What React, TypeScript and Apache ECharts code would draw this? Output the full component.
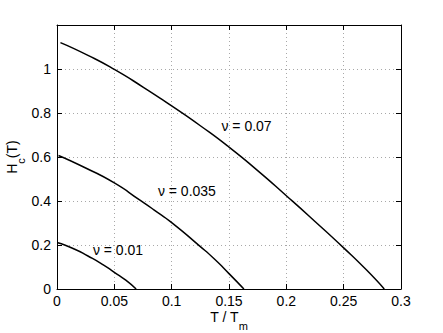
import React, { useEffect, useRef } from "react";
import * as echarts from "echarts";

// ν = 0.07
const nu07T = [0.003, 0.027, 0.05, 0.075, 0.1, 0.125, 0.15, 0.175, 0.2, 0.225, 0.25, 0.27, 0.2854];
const nu07H = [1.12, 1.062, 0.998, 0.918, 0.832, 0.742, 0.645, 0.538, 0.424, 0.307, 0.187, 0.086, 0];
// ν = 0.035
const nu035T = [0.0013, 0.025, 0.05, 0.072, 0.0845, 0.1, 0.1245, 0.1375, 0.15, 0.163];
const nu035H = [0.607, 0.55, 0.482, 0.405, 0.36, 0.302, 0.195, 0.135, 0.07, 0];
// ν = 0.01
const nu01T = [0.0007, 0.015, 0.027, 0.04, 0.05, 0.06, 0.069];
const nu01H = [0.21, 0.182, 0.15, 0.111, 0.076, 0.04, 0];

const curveLabels = ["ν = 0.07", "ν = 0.035", "ν = 0.01"];
const labelT = [0.1434, 0.088, 0.0313];
const labelH = [0.739, 0.444, 0.179];

const xMin = 0;
const xMax = 0.3;
const xStep = 0.05;
const yMin = 0;
const yMax = 1.2;
const yStep = 0.2;

const FONT = "'Liberation Sans', Arial, Helvetica, sans-serif";

function zip(t: number[], h: number[]) {
  return t.map((v, i) => [v, h[i]]);
}

export default function App() {
  const ref = useRef<HTMLDivElement>(null);
  useEffect(() => {
    if (!ref.current) return;
    const chart = echarts.init(ref.current, null, { renderer: "svg" });
    const gridLine = { show: true, lineStyle: { color: "#a8a8a8", type: [1, 3] as any, width: 1 } };
    const axisLine = { show: true, onZero: false, lineStyle: { color: "#000", width: 1 } };
    const tick = { show: true, inside: true, length: 5, lineStyle: { color: "#000" } };
    const labelStyle = { color: "#000", fontSize: 14, fontFamily: FONT };
    const sets = [zip(nu07T, nu07H), zip(nu035T, nu035H), zip(nu01T, nu01H)];
    const series: any[] = sets.map((d, i) => ({
      type: "line",
      data: d,
      smooth: 0.6,
      showSymbol: false,
      symbol: "none",
      lineStyle: { color: "#000", width: 1.5 },
      markPoint: {
        symbol: "circle",
        symbolSize: 0,
        data: [
          {
            coord: [labelT[i], labelH[i]],
            label: {
              show: true,
              formatter: curveLabels[i],
              position: "inside",
              align: "left",
              verticalAlign: "middle",
              color: "#000",
              fontSize: 14,
              fontFamily: FONT,
            },
          },
        ],
      },
    }));
    const rich = {
      n: { fontSize: 14, fontFamily: FONT, color: "#000", lineHeight: 22, verticalAlign: "top" },
      s: { fontSize: 11, fontFamily: FONT, color: "#000", lineHeight: 11, padding: [10, 0, 0, 0], verticalAlign: "top" },
    };
    chart.setOption({
      animation: false,
      backgroundColor: "#fff",
      grid: { left: 57, right: 42, top: 25, bottom: 44, containLabel: false, outerBoundsMode: "none" },
      xAxis: [
        {
          type: "value",
          min: xMin,
          max: xMax,
          interval: xStep,
          position: "bottom",
          axisLine,
          axisTick: tick,
          splitLine: gridLine,
          axisLabel: { ...labelStyle, margin: 5 },
          name: "{n|T / T}{s|m}",
          nameLocation: "middle",
          nameGap: 21,
          nameMoveOverlap: false,
          nameTextStyle: { rich },
        },
        {
          type: "value",
          min: xMin,
          max: xMax,
          interval: xStep,
          position: "top",
          axisLine,
          axisTick: tick,
          splitLine: { show: false },
          axisLabel: { show: false },
        },
      ],
      yAxis: [
        {
          type: "value",
          min: yMin,
          max: yMax,
          interval: yStep,
          position: "left",
          axisLine,
          axisTick: tick,
          splitLine: gridLine,
          axisLabel: { ...labelStyle, margin: 6, showMaxLabel: false },
          name: "{n|H}{s|c}{n|(T)}",
          nameLocation: "middle",
          nameGap: 30,
          nameMoveOverlap: false,
          nameTextStyle: { rich },
        },
        {
          type: "value",
          min: yMin,
          max: yMax,
          interval: yStep,
          position: "right",
          axisLine,
          axisTick: tick,
          splitLine: { show: false },
          axisLabel: { show: false },
        },
      ],
      series,
    });
    return () => chart.dispose();
  }, []);
  return (
    <div
      ref={ref}
      style={{ position: "fixed", left: 0, top: 0, width: 443, height: 333 }}
    />
  );
}
